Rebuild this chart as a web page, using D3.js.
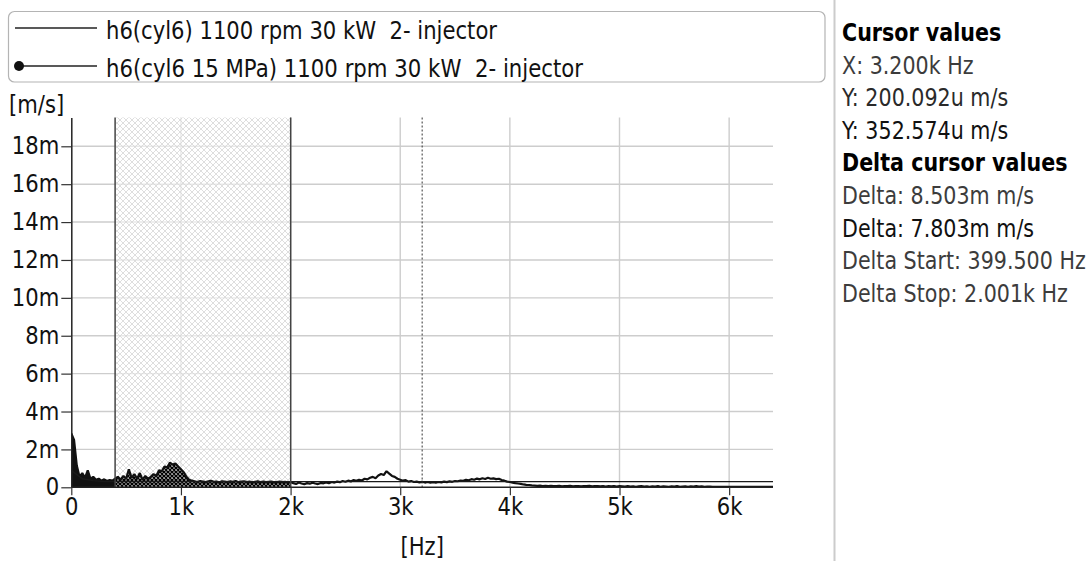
<!DOCTYPE html>
<html><head><meta charset="utf-8">
<script src="https://cdn.jsdelivr.net/npm/d3@7"></script>
<style>
body{margin:0;background:#fff;}
svg{display:block;font-family:"DejaVu Sans",sans-serif;}
text{white-space:pre;}
</style>
</head><body>
<svg id="c" width="1091" height="561"></svg>
<script>
// ---------------- data ----------------
// Series 1: h6(cyl6), amplitude in mm/s ("m" units of m/s), one value every 25 Hz, 0..6400 Hz
const freqStepA = 25;
const seriesA = [
  2.85,2.5,1.15,0.55,0.75,0.5,0.9,0.45,0.55,0.4,0.45,0.35,0.42,0.33,0.38,0.35,
  0.45,0.55,0.4,0.6,0.45,0.95,0.5,0.7,0.45,0.75,0.4,0.6,0.45,0.55,0.7,0.6,
  0.9,0.85,1.1,1.05,1.3,1.2,1.25,1.1,0.95,0.8,0.55,0.4,0.35,
  0.32,0.28,0.33,0.3,0.27,0.31,0.34,0.29,0.3,0.26,0.32,0.3,0.28,0.31,0.29,0.33,0.27,0.3,
  0.32,0.28,0.3,0.26,0.29,0.31,0.28,0.3,0.27,0.29,0.3,0.26,0.28,0.3,0.27,0.29,0.26,0.28,
  0.22,0.18,0.25,0.2,0.16,0.22,0.19,0.24,0.2,0.17,0.23,0.21,0.26,0.22,0.28,0.25,0.3,0.27,0.33,0.29,0.35,0.31,0.38,0.34,
  0.4,0.36,0.45,0.42,0.5,0.55,0.48,0.62,0.7,0.65,0.85,0.72,0.6,0.55,0.45,0.4,
  0.35,0.38,0.3,0.33,0.28,0.3,0.26,0.29,0.25,0.28,0.24,0.27,0.25,0.28,0.26,0.3,0.27,0.31,0.29,0.33,
  0.32,0.36,0.34,0.4,0.37,0.43,0.4,0.46,0.42,0.48,0.44,0.5,0.45,0.47,0.43,0.45,0.38,0.35,0.3,0.28,
  0.25,0.22,0.2,0.18,0.15,0.13,0.12,0.1,0.09,0.08,0.09,0.07,0.08,0.06,0.08,0.07,0.06,0.08,0.05,0.07,
  0.06,0.08,0.05,0.07,0.06,0.05,0.07,0.06,0.08,0.05,0.06,0.07,0.05,0.06,0.04,0.06,0.05,0.07,0.04,0.06,
  0.05,0.04,0.06,0.04,0.05,0.03,0.05,0.06,0.04,0.05,0.03,0.05,0.04,0.06,0.03,0.05,
  0.04,0.03,0.05,0.04,0.06,0.03,0.04,0.05,0.03,0.05,0.04,0.06,0.04,0.05,0.03,0.04,
  0.04,0.03,0.03,0.02,0.02,0.02,0.02,0.02,0.02,0.02,0.02,0.02,
  0.02,0.02,0.02,0.02,0.02,0.02,0.02,0.02,0.02,0.02,0.02,0.02
];
// Series 2: h6(cyl6 15 MPa), one value every 100 Hz, 0..6400 Hz
const freqStepB = 100;
const seriesB = [
  0.9,0.45,0.35,0.31,0.3,0.31,0.3,0.31,0.3,0.31,0.3,0.3,0.3,0.3,0.3,0.3,
  0.3,0.3,0.3,0.3,0.3,0.3,0.3,0.3,0.3,0.3,0.3,0.3,0.3,0.3,0.3,0.3,
  0.3,0.3,0.3,0.3,0.3,0.3,0.3,0.3,0.3,0.3,0.3,0.3,0.3,0.3,0.3,0.3,
  0.3,0.3,0.3,0.3,0.3,0.3,0.3,0.3,0.3,0.3,0.3,0.3,0.3,0.3,0.3,0.3,0.3
];
const legendLabels = ["h6(cyl6) 1100 rpm 30 kW  2- injector", "h6(cyl6 15 MPa) 1100 rpm 30 kW  2- injector"];
const xTicks = [0,1000,2000,3000,4000,5000,6000];
const xTickLabels = ["0","1k","2k","3k","4k","5k","6k"];
const yTicks = [0,2,4,6,8,10,12,14,16,18];
const yTickLabels = ["0","2m","4m","6m","8m","10m","12m","14m","16m","18m"];
const xMax = 6400, yMax = 19.52;
const deltaStart = 399.5, deltaStop = 2001, cursorX = 3200;
const panelLines = [
  {t:"Cursor values", b:true, c:"#000"},
  {t:"X: 3.200k Hz", b:false, c:"#3c3c3c"},
  {t:"Y: 200.092u m/s", b:false, c:"#2a2a2a"},
  {t:"Y: 352.574u m/s", b:false, c:"#111"},
  {t:"Delta cursor values", b:true, c:"#000"},
  {t:"Delta: 8.503m m/s", b:false, c:"#3c3c3c"},
  {t:"Delta: 7.803m m/s", b:false, c:"#111"},
  {t:"Delta Start: 399.500 Hz", b:false, c:"#3c3c3c"},
  {t:"Delta Stop: 2.001k Hz", b:false, c:"#3c3c3c"}
];

// ---------------- drawing ----------------
const svg = d3.select("#c");
const L = 71.3, R = 773, T = 117.5, B = 487.3;
const x = d3.scaleLinear().domain([0, xMax]).range([L, R]);
const y = d3.scaleLinear().domain([0, yMax]).range([B, T]);

const defs = svg.append("defs");
const lp = defs.append("pattern").attr("id","lightHatch").attr("patternUnits","userSpaceOnUse")
  .attr("width",6).attr("height",6);
lp.append("rect").attr("width",6).attr("height",6).attr("fill","#fff").attr("fill-opacity",0.55);
lp.append("path").attr("d","M0,0L6,6M6,0L0,6").attr("stroke","#d6d6d6").attr("stroke-width",0.8);

const dp = defs.append("pattern").attr("id","darkHatch").attr("patternUnits","userSpaceOnUse")
  .attr("width",4).attr("height",4);
dp.append("rect").attr("width",4).attr("height",4).attr("fill","#fff");
dp.append("path").attr("d","M0,0L4,4M4,0L0,4M-1,3L1,5M3,-1L5,1M-1,1L1,-1M3,5L5,3").attr("stroke","#000").attr("stroke-width",1.5);

defs.append("clipPath").attr("id","clipPlot").append("rect")
  .attr("x",L).attr("y",T).attr("width",R-L).attr("height",B-T+1);
defs.append("clipPath").attr("id","clipLow").append("rect")
  .attr("x",L).attr("y",T).attr("width",x(deltaStart)-L).attr("height",B-T);
defs.append("clipPath").attr("id","clipDelta").append("rect")
  .attr("x",x(deltaStart)).attr("y",T).attr("width",x(deltaStop)-x(deltaStart)).attr("height",B-T);

// gridlines
const grid = svg.append("g");
grid.selectAll("line.h").data(yTicks.filter(d=>d>0)).join("line")
  .attr("x1",L).attr("x2",R).attr("y1",d=>y(d)).attr("y2",d=>y(d))
  .attr("stroke","#cdcdcd").attr("stroke-width",1.4);
grid.selectAll("line.v").data(xTicks.filter(d=>d>0)).join("line")
  .attr("x1",d=>x(d)).attr("x2",d=>x(d)).attr("y1",T).attr("y2",B)
  .attr("stroke","#cdcdcd").attr("stroke-width",1.4);

// delta region light hatch
svg.append("rect").attr("x",x(deltaStart)).attr("y",T)
  .attr("width",x(deltaStop)-x(deltaStart)).attr("height",B-T)
  .attr("fill","url(#lightHatch)");

// series A
const areaA = d3.area().x((d,i)=>x(i*freqStepA)).y0(y(0)).y1(d=>y(d));
const lineA = d3.line().x((d,i)=>x(i*freqStepA)).y(d=>y(d));
svg.append("path").datum(seriesA).attr("d",areaA).attr("fill","#111").attr("clip-path","url(#clipLow)");
svg.append("path").datum(seriesA).attr("d",areaA).attr("fill","url(#darkHatch)").attr("clip-path","url(#clipDelta)");
svg.append("path").datum(seriesA).attr("d",lineA).attr("fill","none")
  .attr("stroke","#111").attr("stroke-width",2.2).attr("stroke-linejoin","bevel").attr("clip-path","url(#clipPlot)");

// series B
const lineB = d3.line().x((d,i)=>x(i*freqStepB)).y(d=>y(d));
svg.append("path").datum(seriesB).attr("d",lineB).attr("fill","none")
  .attr("stroke","#1a1a1a").attr("stroke-width",1.4).attr("clip-path","url(#clipPlot)");

// delta and cursor lines
svg.selectAll("line.delta").data([deltaStart, deltaStop]).join("line")
  .attr("x1",d=>x(d)).attr("x2",d=>x(d)).attr("y1",T).attr("y2",B)
  .attr("stroke","#444").attr("stroke-width",1.5);
svg.append("line").attr("x1",x(cursorX)).attr("x2",x(cursorX)).attr("y1",T).attr("y2",B)
  .attr("stroke","#333").attr("stroke-width",1).attr("stroke-dasharray","2,2");

// axes
const yAxis = svg.append("g").attr("transform",`translate(${L},0)`)
  .call(d3.axisLeft(y).tickValues(yTicks).tickFormat((d,i)=>yTickLabels[i]).tickSize(10).tickSizeOuter(0).tickPadding(2));
const xAxis = svg.append("g").attr("transform",`translate(0,${B})`)
  .call(d3.axisBottom(x).tickValues(xTicks).tickFormat((d,i)=>xTickLabels[i]).tickSize(8).tickSizeOuter(0).tickPadding(3));
[yAxis, xAxis].forEach(a=>{
  a.select(".domain").attr("stroke","#222").attr("stroke-width",1.5);
  a.selectAll(".tick line").attr("stroke","#333").attr("stroke-width",1.2);
  a.selectAll("text").attr("font-size",24).attr("fill","#111").attr("font-family","DejaVu Sans");
});
xAxis.select(".domain").attr("d",`M${L},0H${R}`);

// axis titles
svg.append("text").attr("x",9).attr("y",113).attr("font-size",24).attr("fill","#111").text("[m/s]");
svg.append("text").attr("x",(L+R)/2).attr("y",555).attr("text-anchor","middle").attr("font-size",24).attr("fill","#111").text("[Hz]");

// legend
const lg = svg.append("g");
lg.append("rect").attr("x",8.5).attr("y",11.5).attr("width",816.5).attr("height",70.5).attr("rx",6)
  .attr("fill","none").attr("stroke","#b4b4b4").attr("stroke-width",1.2);
const legRows = [{y:28, marker:false, w:391},{y:66, marker:true, w:477}];
legRows.forEach((r,i)=>{
  lg.append("line").attr("x1",r.marker?19:15).attr("x2",97).attr("y1",r.y).attr("y2",r.y)
    .attr("stroke","#222").attr("stroke-width",1.4);
  if(r.marker) lg.append("circle").attr("cx",19).attr("cy",r.y).attr("r",5).attr("fill","#111");
  lg.append("text").attr("class","fixed").attr("x",106).attr("y",r.y+11).attr("font-size",25).attr("fill","#111")
    .attr("textLength",r.w).attr("lengthAdjust","spacingAndGlyphs").text(legendLabels[i]);
});

// compression of plot texts to match the narrower original face
svg.selectAll("text:not(.fixed)").each(function(){
  const w = this.getComputedTextLength();
  d3.select(this).attr("textLength", w*0.88).attr("lengthAdjust","spacingAndGlyphs");
});

// right panel (horizontally scaled group)
svg.append("line").attr("x1",834.5).attr("x2",834.5).attr("y1",0).attr("y2",561)
  .attr("stroke","#cccccc").attr("stroke-width",2);
const panel = svg.append("g").attr("transform","translate(842,0) scale(0.86,1)");
panel.selectAll("text.panel").data(panelLines).join("text").attr("class","panel")
  .attr("x",0).attr("y",(d,i)=>41+i*32.6).attr("font-size",24)
  .attr("font-weight",d=>d.b?"bold":"normal").attr("fill",d=>d.c).text(d=>d.t);
</script>
</body></html>
